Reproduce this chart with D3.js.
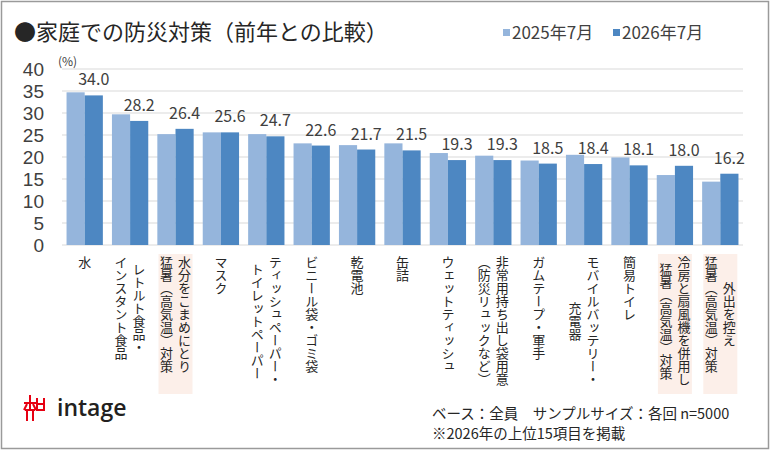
<!DOCTYPE html>
<html>
<head>
<meta charset="utf-8">
<script src="https://cdn.jsdelivr.net/npm/d3@7"></script>
<style>
  body { margin: 0; background: #fff; }
  text { font-family: "Noto Sans CJK JP", "Noto Sans", sans-serif; }
</style>
</head>
<body>
<div id="frame"></div>
<script>
// data
const categories = [
  ["水"],
  ["レトルト食品・", "インスタント食品"],
  ["水分をこまめにとり", "猛暑（高気温）対策"],
  ["マスク"],
  ["ティッシュペーパー・", "トイレットペーパー"],
  ["ビニール袋・ゴミ袋"],
  ["乾電池"],
  ["缶詰"],
  ["ウェットティッシュ"],
  ["非常用持ち出し袋用意", "（防災リュックなど）"],
  ["ガムテープ・軍手"],
  ["モバイルバッテリー・", "充電器"],
  ["簡易トイレ"],
  ["冷房と扇風機を併用し", "猛暑（高気温）対策"],
  ["外出を控え", "猛暑（高気温）対策"]
];
const highlighted = [2, 13, 14];
const seriesNames = ["2025年7月", "2026年7月"];
const values2025 = [34.7, 29.7, 25.2, 25.6, 25.2, 23.1, 22.7, 23.1, 20.9, 20.3, 19.2, 20.5, 19.9, 15.9, 14.4];
const values2026 = [34.0, 28.2, 26.4, 25.6, 24.7, 22.6, 21.7, 21.5, 19.3, 19.3, 18.5, 18.4, 18.1, 18.0, 16.2];
const yTicks = [0, 5, 10, 15, 20, 25, 30, 35, 40];
const notes = ["ベース：全員　サンプルサイズ：各回 n=5000", "※2026年の上位15項目を掲載"];

const width = 770, height = 453;
const plotLeft = 62, plotRight = 743, plotTop = 69, plotBottom = 245;
const colors = ["#95b5dc", "#4d87c2"];

let svg = d3.select("#frame")
        .append("svg")
        .attr("width", width)
        .attr("height", height);

// outer frame
svg.append("rect")
        .attr("x", 1.5).attr("y", 1.5)
        .attr("width", width - 3).attr("height", height - 6)
        .attr("fill", "#fff")
        .attr("stroke", "#9a9a9a")
        .attr("stroke-width", 1.5);

// title
svg.append("text")
        .attr("x", 14)
        .attr("y", 40)
        .attr("font-size", 22)
        .attr("fill", "#262626")
        .text("●家庭での防災対策（前年との比較）");

let x0 = d3.scaleBand()
        .domain(d3.range(categories.length))
        .range([plotLeft, plotRight])
        .paddingInner(0.2)
        .paddingOuter(0.1);

let x1 = d3.scaleBand()
        .domain([0, 1])
        .range([0, x0.bandwidth()]);

let y = d3.scaleLinear()
        .domain([0, 40])
        .range([plotBottom, plotTop]);

// gridlines
svg.append("g")
    .selectAll("line")
    .data(yTicks)
    .enter()
    .append("line")
    .attr("x1", plotLeft)
    .attr("x2", plotRight)
    .attr("y1", d => y(d))
    .attr("y2", d => y(d))
    .attr("stroke", "#d9d9d9")
    .attr("stroke-width", 1);

// y axis labels
let yAxis = d3.axisLeft(y).tickValues(yTicks).tickSize(0).tickPadding(0);
let yAxisG = svg.append("g")
        .attr("transform", "translate(44,0)")
        .call(yAxis);
yAxisG.select(".domain").remove();
yAxisG.selectAll("text")
        .attr("font-size", 19)
        .attr("fill", "#404040")
        .attr("dy", "0.36em")
        .style("font-family", "'Liberation Sans', sans-serif");

svg.append("text")
        .attr("x", 58)
        .attr("y", 66)
        .attr("font-size", 12)
        .attr("fill", "#404040")
        .text("(%)");

// highlight boxes behind labels
svg.append("g")
    .selectAll("rect")
    .data(highlighted)
    .enter()
    .append("rect")
    .attr("x", d => x0(d) + x0.bandwidth() / 2 - 17)
    .attr("y", 254)
    .attr("width", 34)
    .attr("height", 140)
    .attr("fill", "#fcefe9");

// bars
let groups = svg.append("g")
    .selectAll("g")
    .data(categories.map((c, i) => ({i, v: [values2025[i], values2026[i]]})))
    .enter()
    .append("g")
    .attr("transform", d => "translate(" + x0(d.i) + ",0)");

groups.selectAll("rect")
    .data(d => d.v.map((v, k) => ({k, v})))
    .enter()
    .append("rect")
    .attr("x", d => x1(d.k))
    .attr("y", d => y(d.v))
    .attr("width", x1.bandwidth())
    .attr("height", d => plotBottom - y(d.v))
    .attr("fill", d => colors[d.k]);

// value labels (2026)
groups.append("text")
    .attr("x", x1(1) + x1.bandwidth() / 2)
    .attr("y", d => y(d.v[1]) - 10)
    .attr("text-anchor", "middle")
    .attr("font-size", 16)
    .attr("fill", "#404040")
    .text(d => d.v[1].toFixed(1));

// category labels, vertical, lines centered within block
const labelTop = 256, colGap = 18;
categories.forEach((lines, i) => {
    let cx = x0(i) + x0.bandwidth() / 2;
    let g = svg.append("g");
    let texts = lines.map((line, j) => g.append("text")
        .attr("x", cx + (lines.length - 1) / 2 * colGap - j * colGap)
        .attr("font-size", 13)
        .attr("fill", "#262626")
        .attr("text-anchor", "middle")
        .style("writing-mode", "vertical-rl")
        .text(line));
    let maxLen = d3.max(texts, t => t.node().getComputedTextLength());
    texts.forEach(t => t.attr("y", labelTop + maxLen / 2));
});

// legend
let legend = svg.append("g");
[503, 613].forEach((lx, k) => {
    legend.append("rect")
        .attr("x", lx).attr("y", 29)
        .attr("width", 7).attr("height", 7)
        .attr("fill", colors[k]);
    legend.append("text")
        .attr("x", lx + 9)
        .attr("y", 39)
        .attr("font-size", 17)
        .attr("fill", "#404040")
        .text(seriesNames[k]);
});

// logo
let logo = svg.append("g").attr("stroke", "#e60012").attr("fill", "none").attr("stroke-width", 2);
logo.append("path").attr("d", "M24 403 L36 403 M30 395 L30 410 M25 410 L35 410 M27 410 L27 421 M33 410 L33 421 M27 404 L24 410 M33 404 L36 410");
logo.append("path").attr("d", "M37 398 L37 410 L44 410 L44 398 M37 404 L44 404");
svg.append("text")
        .attr("x", 57)
        .attr("y", 416)
        .attr("font-size", 23)
        .attr("font-weight", 600)
        .attr("fill", "#231f20")
        .style("font-family", "'Open Sans', sans-serif")
        .text("intage");

// notes
notes.forEach((t, i) => {
    svg.append("text")
        .attr("x", 432)
        .attr("y", 419 + i * 20)
        .attr("font-size", 14.5)
        .attr("fill", "#262626")
        .text(t);
});
</script>
</body>
</html>
